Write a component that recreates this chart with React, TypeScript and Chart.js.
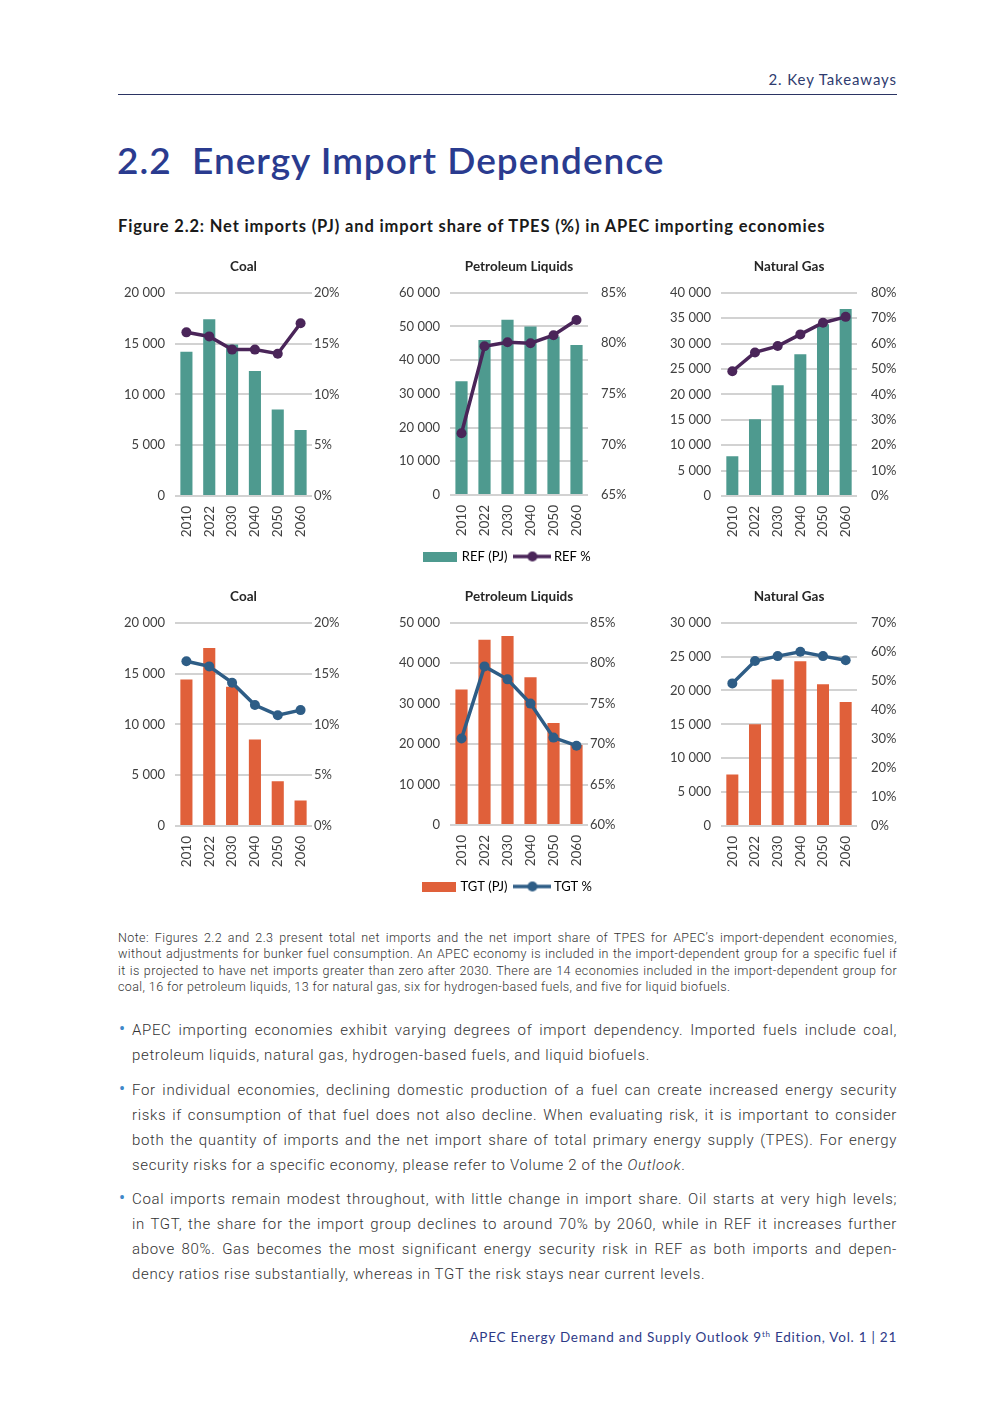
import React, { useEffect, useRef } from "react";
import { Chart, registerables } from "chart.js";
Chart.register(...registerables);

const years = ["2010", "2022", "2030", "2040", "2050", "2060"];

const coalRefPJ = [14200, 17400, 14900, 12300, 8500, 6500];
const coalRefPct = [16.1, 15.7, 14.4, 14.4, 14.0, 17.0];
const petRefPJ = [33700, 46000, 52000, 50000, 47000, 44500];
const petRefPct = [71.1, 79.7, 80.1, 80.0, 80.8, 82.3];
const gasRefPJ = [7800, 15100, 21800, 27900, 33800, 36800];
const gasRefPct = [49.1, 56.5, 59.0, 63.6, 68.2, 70.5];
const coalTgtPJ = [14400, 17500, 13700, 8500, 4400, 2500];
const coalTgtPct = [16.2, 15.7, 14.1, 11.9, 10.9, 11.4];
const petTgtPJ = [33500, 45800, 46700, 36500, 25200, 19800];
const petTgtPct = [70.7, 79.6, 78.0, 75.0, 70.8, 69.8];
const gasTgtPJ = [7600, 15000, 21600, 24300, 20900, 18300];
const gasTgtPct = [49.1, 56.8, 58.5, 60.0, 58.5, 57.1];

const noteLines = [
  "Note: Figures 2.2 and 2.3 present total net imports and the net import share of TPES for APEC’s import-dependent economies,",
  "without adjustments for bunker fuel consumption. An APEC economy is included in the import-dependent group for a specific fuel if",
  "it is projected to have net imports greater than zero after 2030. There are 14 economies included in the import-dependent group for",
  "coal, 16 for petroleum liquids, 13 for natural gas, six for hydrogen-based fuels, and five for liquid biofuels.",
];

const bullet1 = [
  "APEC importing economies exhibit varying degrees of import dependency. Imported fuels include coal,",
  "petroleum liquids, natural gas, hydrogen-based fuels, and liquid biofuels.",
];
const bullet2 = [
  "For individual economies, declining domestic production of a fuel can create increased energy security",
  "risks if consumption of that fuel does not also decline. When evaluating risk, it is important to consider",
  "both the quantity of imports and the net import share of total primary energy supply (TPES). For energy",
  "security risks for a specific economy, please refer to Volume 2 of the ",
];
const bullet3 = [
  "Coal imports remain modest throughout, with little change in import share. Oil starts at very high levels;",
  "in TGT, the share for the import group declines to around 70% by 2060, while in REF it increases further",
  "above 80%. Gas becomes the most significant energy security risk in REF as both imports and depen-",
  "dency ratios rise substantially, whereas in TGT the risk stays near current levels.",
];

const fmt = (v: number) => String(v).replace(/\B(?=(\d{3})+(?!\d))/g, " ");

type Spec = {
  title: string;
  pj: number[];
  pct: number[];
  scen: "REF" | "TGT";
  leftMax: number;
  leftStep: number;
  rightMin: number;
  rightMax: number;
  rightStep: number;
  left: number;
  top: number;
  width: number;
  height: number;
  leftW: number;
  rightW: number;
  rightPad: number;
  legend?: boolean;
};

function makeRectImg(color: string) {
  const c = document.createElement("canvas");
  c.width = 34;
  c.height = 10;
  const ctx = c.getContext("2d")!;
  ctx.fillStyle = color;
  ctx.fillRect(0, 0, 34, 10);
  return c;
}
function makeLineImg(color: string) {
  const c = document.createElement("canvas");
  c.width = 38;
  c.height = 12;
  const ctx = c.getContext("2d")!;
  ctx.strokeStyle = color;
  ctx.lineWidth = 3.5;
  ctx.beginPath();
  ctx.moveTo(0, 6);
  ctx.lineTo(38, 6);
  ctx.stroke();
  ctx.fillStyle = color;
  ctx.beginPath();
  ctx.arc(19, 6, 5, 0, Math.PI * 2);
  ctx.fill();
  return c;
}

const tickFont = { family: "Lato", size: 13 };
const tickColor = "#404040";

function MixedChart({ s }: { s: Spec }) {
  const ref = useRef<HTMLCanvasElement>(null);
  useEffect(() => {
    const barColor = s.scen === "REF" ? "#4e9a8f" : "#e0603a";
    const lineColor = s.scen === "REF" ? "#4a2559" : "#2e5d86";
    const rectImg = makeRectImg(barColor);
    const lineImg = makeLineImg(lineColor);
    const chart = new Chart(ref.current!, {
      type: "bar",
      data: {
        labels: years,
        datasets: [
          {
            type: "line",
            label: `${s.scen} %`,
            data: s.pct,
            yAxisID: "y1",
            borderColor: lineColor,
            backgroundColor: lineColor,
            borderWidth: 3.5,
            pointRadius: 5,
            pointBackgroundColor: lineColor,
            pointBorderWidth: 0,
            order: 0,
          } as any,
          {
            type: "bar",
            label: `${s.scen} (PJ)`,
            data: s.pj,
            yAxisID: "y",
            backgroundColor: barColor,
            categoryPercentage: 1,
            barPercentage: 0.53,
            order: 1,
          },
        ],
      },
      options: {
        responsive: false,
        animation: false,
        layout: { padding: 0 },
        plugins: {
          title: {
            display: true,
            text: s.title,
            fullSize: false,
            font: { family: "Lato", size: 13.5, weight: "bold" },
            color: "#262626",
            padding: { top: 4, bottom: 17.5 },
          },
          legend: s.legend
            ? {
                display: true,
                position: "bottom",
                labels: {
                  usePointStyle: true,
                  pointStyleWidth: 30,
                  boxHeight: 10,
                  padding: 10,
                  font: { family: "Lato", size: 13 },
                  color: tickColor,
                  generateLabels: () => [
                    {
                      text: `${s.scen} (PJ)`,
                      pointStyle: rectImg as any,
                      fillStyle: barColor,
                      strokeStyle: barColor,
                      lineWidth: 0,
                      hidden: false,
                      datasetIndex: 1,
                    },
                    {
                      text: `${s.scen} %`,
                      pointStyle: lineImg as any,
                      fillStyle: lineColor,
                      strokeStyle: lineColor,
                      lineWidth: 0,
                      hidden: false,
                      datasetIndex: 0,
                    },
                  ],
                },
              }
            : { display: false },
          tooltip: { enabled: false },
        },
        scales: {
          x: {
            grid: { display: false },
            border: { display: false },
            ticks: {
              minRotation: 90,
              maxRotation: 90,
              autoSkip: false,
              font: { family: "Lato", size: 13.5 },
              color: tickColor,
              padding: 2,
            },
            afterFit: (sc: any) => {
              sc.height = 45;
            },
          },
          y: {
            position: "left",
            min: 0,
            max: s.leftMax,
            ticks: {
              stepSize: s.leftStep,
              callback: (v: any) => fmt(Number(v)),
              padding: 10,
              font: tickFont,
              color: tickColor,
            },
            grid: { color: "#d2d2d2", lineWidth: 2, drawTicks: false },
            border: { display: false },
            afterFit: (sc: any) => {
              sc.width = s.leftW;
            },
          },
          y1: {
            position: "right",
            min: s.rightMin,
            max: s.rightMax,
            ticks: {
              stepSize: s.rightStep,
              callback: (v: any) => `${v}%`,
              padding: s.rightPad,
              font: tickFont,
              color: tickColor,
            },
            grid: { display: false, drawTicks: false },
            border: { display: false },
            afterFit: (sc: any) => {
              sc.width = s.rightW;
            },
          },
        },
      } as any,
    });
    return () => chart.destroy();
  }, [s]);
  return (
    <canvas
      ref={ref}
      width={s.width}
      height={s.height}
      style={{ position: "absolute", left: s.left, top: s.top, width: s.width, height: s.height }}
    />
  );
}

const specs: Spec[] = [
  { title: "Coal", pj: coalRefPJ, pct: coalRefPct, scen: "REF", leftMax: 20000, leftStep: 5000, rightMin: 0, rightMax: 20, rightStep: 5, left: 110, top: 255, width: 240, height: 286, leftW: 65, rightW: 38, rightPad: 2 },
  { title: "Petroleum Liquids", pj: petRefPJ, pct: petRefPct, scen: "REF", leftMax: 60000, leftStep: 10000, rightMin: 65, rightMax: 85, rightStep: 5, left: 385, top: 255, width: 246, height: 318, leftW: 65, rightW: 43, rightPad: 13, legend: true },
  { title: "Natural Gas", pj: gasRefPJ, pct: gasRefPct, scen: "REF", leftMax: 40000, leftStep: 5000, rightMin: 0, rightMax: 80, rightStep: 10, left: 656, top: 255, width: 244, height: 286, leftW: 65, rightW: 43, rightPad: 14 },
  { title: "Coal", pj: coalTgtPJ, pct: coalTgtPct, scen: "TGT", leftMax: 20000, leftStep: 5000, rightMin: 0, rightMax: 20, rightStep: 5, left: 110, top: 585, width: 240, height: 286, leftW: 65, rightW: 38, rightPad: 2 },
  { title: "Petroleum Liquids", pj: petTgtPJ, pct: petTgtPct, scen: "TGT", leftMax: 50000, leftStep: 10000, rightMin: 60, rightMax: 85, rightStep: 5, left: 385, top: 585, width: 246, height: 318, leftW: 65, rightW: 43, rightPad: 2, legend: true },
  { title: "Natural Gas", pj: gasTgtPJ, pct: gasTgtPct, scen: "TGT", leftMax: 30000, leftStep: 5000, rightMin: 0, rightMax: 70, rightStep: 10, left: 656, top: 585, width: 244, height: 286, leftW: 65, rightW: 43, rightPad: 14 },
];

const bodyFont = "Roboto, 'Liberation Sans', sans-serif";

function JLines({ lines, top, left, width, lh, size, ls, tail }: { lines: string[]; top: number; left: number; width: number; lh: number; size: number; ls: number; tail?: React.ReactNode }) {
  return (
    <div style={{ position: "absolute", top, left, width, fontFamily: bodyFont, fontSize: size, lineHeight: `${lh}px`, color: "#333", fontWeight: 300, letterSpacing: `${ls}px` }}>
      {lines.map((l, i) => {
        const last = i === lines.length - 1;
        return (
          <div key={i} style={{ textAlign: last ? "left" : "justify", textAlignLast: last ? "left" : "justify", whiteSpace: last ? "nowrap" : "normal" }}>
            {l}
            {last && tail}
          </div>
        );
      })}
    </div>
  );
}

function Bullet({ top }: { top: number }) {
  return <div style={{ position: "absolute", top: top, left: 119, fontSize: 18, lineHeight: "25px", color: "#3f87c8", fontFamily: bodyFont }}>•</div>;
}

export default function App() {
  return (
    <div style={{ position: "absolute", left: 0, top: 0, width: 992, height: 1403, background: "#fff", overflow: "hidden" }}>
      <div style={{ position: "absolute", left: 118, top: 70, width: 779, textAlign: "right", fontFamily: "Lato", fontSize: 15, lineHeight: "18px", color: "#2f3b6e", letterSpacing: "0.9px" }}>2. Key Takeaways</div>
      <div style={{ position: "absolute", left: 118, top: 94, width: 779, height: 1, background: "#2b3463" }} />
      <div style={{ position: "absolute", left: 117, top: 139, fontFamily: "Lato", fontSize: 37, fontWeight: 600, lineHeight: "42px", color: "#2a3b8f", whiteSpace: "pre", letterSpacing: "1px" }}>2.2  Energy Import Dependence</div>
      <div style={{ position: "absolute", left: 118, top: 216, fontFamily: "Lato", fontSize: 16.5, fontWeight: 700, lineHeight: "20px", color: "#1a1a1a", whiteSpace: "nowrap", letterSpacing: "0.85px" }}>
        Figure 2.2: Net imports (PJ) and import share of TPES (%) in APEC importing economies
      </div>

      {specs.map((s, i) => (
        <MixedChart key={i} s={s} />
      ))}

      <JLines lines={noteLines} top={930} left={118} width={779} lh={16.4} size={12.5} ls={0.4} />

      <Bullet top={1016} />
      <JLines lines={bullet1} top={1017.5} left={132} width={765} lh={25} size={15} ls={0.65} />
      <Bullet top={1076} />
      <JLines lines={bullet2} top={1077.5} left={132} width={765} lh={25} size={15} ls={0.65} tail={<><i>Outlook</i>.</>} />
      <Bullet top={1185} />
      <JLines lines={bullet3} top={1186.5} left={132} width={765} lh={25} size={15} ls={0.65} />

      <div style={{ position: "absolute", left: 118, top: 1328, width: 779, textAlign: "right", fontFamily: "Lato", fontSize: 13.5, lineHeight: "18px", color: "#2e3a87", letterSpacing: "0.75px" }}>
        APEC Energy Demand and Supply Outlook 9<sup style={{ fontSize: 8, lineHeight: 0 }}>th</sup> Edition, Vol. 1 | 21
      </div>
    </div>
  );
}
